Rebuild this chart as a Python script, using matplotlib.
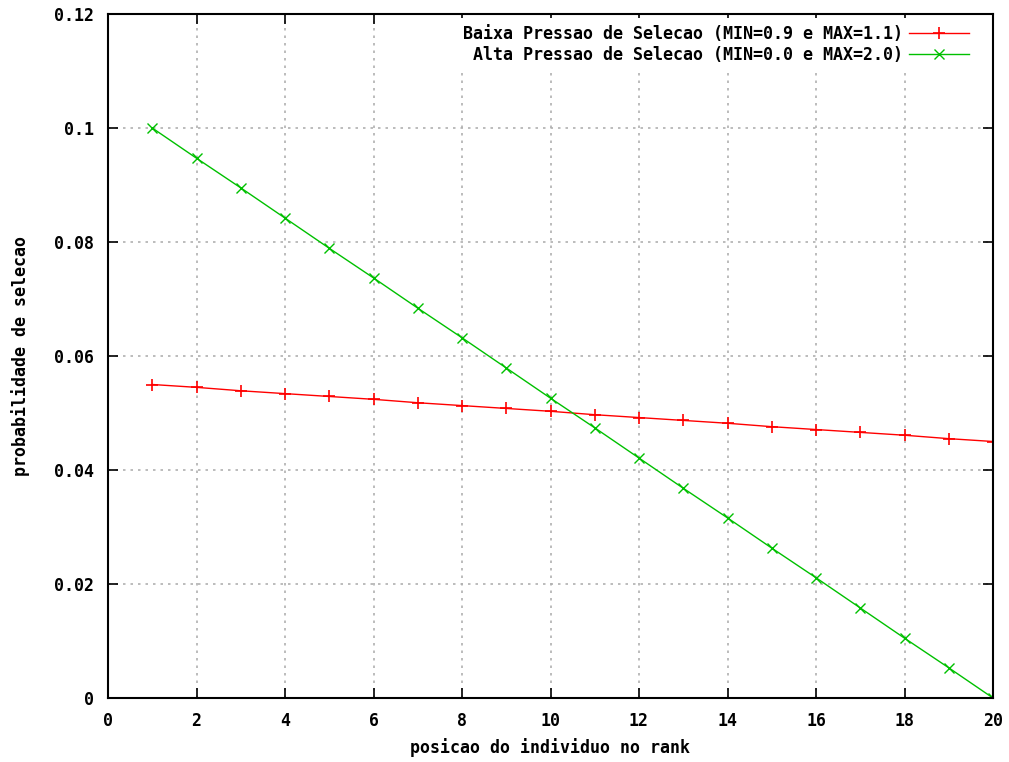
import matplotlib.pyplot as plt
import numpy as np

# posicoes no rank e probabilidades de selecao
rank = list(range(1, 21))
prob_baixa = [0.0550, 0.0545, 0.0539, 0.0534, 0.0529, 0.0524, 0.0518, 0.0513, 0.0508, 0.0503,
              0.0497, 0.0492, 0.0487, 0.0482, 0.0476, 0.0471, 0.0466, 0.0461, 0.0455, 0.0450]
prob_alta = [0.1000, 0.0947, 0.0895, 0.0842, 0.0789, 0.0737, 0.0684, 0.0632, 0.0579, 0.0526,
             0.0474, 0.0421, 0.0368, 0.0316, 0.0263, 0.0211, 0.0158, 0.0105, 0.0053, 0.0000]

label_baixa = 'Baixa Pressao de Selecao (MIN=0.9 e MAX=1.1)'
label_alta = 'Alta Pressao de Selecao (MIN=0.0 e MAX=2.0)'

x_ticks = list(range(0, 21, 2))
y_ticks = [0, 0.02, 0.04, 0.06, 0.08, 0.1, 0.12]
y_ticklabels = ['0', '0.02', '0.04', '0.06', '0.08', '0.1', '0.12']

plt.rcParams['font.family'] = ['DejaVu Sans Mono']
plt.rcParams['font.weight'] = 'bold'

fig = plt.figure(figsize=(10.09, 7.62), dpi=100)
ax = fig.add_axes([108 / 1009, 1 - 698 / 762, (993 - 108) / 1009, (698 - 14) / 762])

ax.plot(rank, prob_baixa, color='#ff0000', lw=1.0, marker='+', ms=8, mew=1.2, label=label_baixa)
ax.plot(rank, prob_alta, color='#00c000', lw=1.0, marker='x', ms=6.5, mew=1.0, label=label_alta)

ax.set_xlim(0, 20)
ax.set_ylim(0, 0.12)
ax.set_xticks(x_ticks)
ax.set_yticks(y_ticks)
ax.set_yticklabels(y_ticklabels)
ax.tick_params(direction='in', length=7, width=1.2, top=True, right=True,
               labelsize=12, pad=10)
ax.grid(True, color='#b0b0b0', linestyle=(0, (1.5, 3)), lw=1.2)
for s in ax.spines.values():
    s.set_linewidth(1.5)

ax.set_xlabel('posicao do individuo no rank', fontsize=12, fontweight='bold', labelpad=6)
ax.set_ylabel('probabilidade de selecao', fontsize=12, fontweight='bold', labelpad=17)

leg = ax.legend(loc='upper right', bbox_to_anchor=(1 - 12 / 885, 1 + 1 / 684),
                frameon=True, fontsize=12, markerfirst=False,
                handlelength=3.6, borderaxespad=0.3, labelspacing=0.2, handletextpad=0.4)
leg.get_frame().set_edgecolor('none')
leg.get_frame().set_facecolor('white')
leg.get_frame().set_alpha(1)
for t in leg.get_texts():
    t.set_ha('right')

fig.savefig('out.png', dpi=100)
